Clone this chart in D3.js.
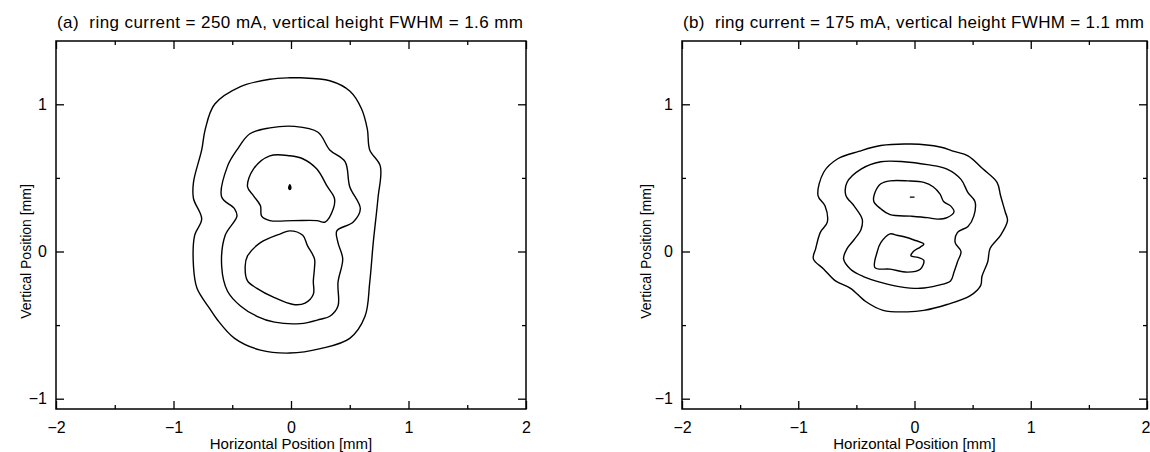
<!DOCTYPE html>
<html><head><meta charset="utf-8">
<script src="https://cdn.jsdelivr.net/npm/d3@7"></script>
<style>
body{margin:0;background:#fff}
svg{display:block}
text{font-family:"Liberation Sans",Arial,sans-serif;fill:#000}
</style>
</head><body>
<svg id="c" width="1150" height="452"></svg>
<script>
// ---- data ----
const xTickValues = [-2, -1, 0, 1, 2];
const xMinorValues = [-1.5, -0.5, 0.5, 1.5];
const yTickValues = [-1, 0, 1];
const yMinorValues = [-0.5, 0.5];
const titles = [
  "(a)  ring current = 250 mA, vertical height FWHM = 1.6 mm",
  "(b)  ring current = 175 mA, vertical height FWHM = 1.1 mm"
];
const xLabel = "Horizontal Position [mm]";
const yLabel = "Vertical Position [mm]";

// contour lines, panel (a), [x mm, y mm]
const aOuter = [[-0.01,1.18],[0.08,1.18],[0.33,1.16],[0.50,1.09],[0.60,0.97],[0.65,0.83],[0.67,0.69],[0.76,0.58],[0.74,0.36],[0.70,0.06],[0.67,-0.21],[0.63,-0.44],[0.50,-0.59],[0.25,-0.66],[-0.01,-0.69],[-0.26,-0.67],[-0.48,-0.59],[-0.63,-0.46],[-0.69,-0.39],[-0.80,-0.25],[-0.83,-0.10],[-0.82,0.11],[-0.76,0.22],[-0.83,0.36],[-0.83,0.47],[-0.76,0.69],[-0.73,0.83],[-0.65,1.00],[-0.43,1.12],[-0.18,1.17]];
const aMiddle = [[0.03,0.85],[0.23,0.81],[0.33,0.69],[0.46,0.61],[0.50,0.44],[0.59,0.29],[0.53,0.20],[0.39,0.14],[0.40,0.06],[0.44,-0.05],[0.40,-0.21],[0.40,-0.37],[0.33,-0.44],[0.25,-0.46],[0.08,-0.49],[-0.14,-0.48],[-0.29,-0.44],[-0.43,-0.37],[-0.54,-0.27],[-0.59,-0.10],[-0.56,0.11],[-0.46,0.24],[-0.48,0.29],[-0.59,0.37],[-0.54,0.58],[-0.46,0.69],[-0.35,0.80],[-0.18,0.84]];
const aInnerTop = [[-0.01,0.65],[0.10,0.63],[0.22,0.56],[0.31,0.44],[0.37,0.36],[0.36,0.29],[0.29,0.20],[0.22,0.21],[0.02,0.21],[-0.18,0.21],[-0.25,0.24],[-0.26,0.31],[-0.32,0.38],[-0.37,0.44],[-0.32,0.56],[-0.18,0.65]];
const aInnerBottom = [[-0.01,0.14],[0.10,0.11],[0.14,0.04],[0.20,-0.05],[0.20,-0.11],[0.19,-0.20],[0.19,-0.29],[0.12,-0.35],[0.02,-0.36],[-0.15,-0.31],[-0.29,-0.25],[-0.37,-0.20],[-0.39,-0.10],[-0.37,-0.03],[-0.26,0.06],[-0.09,0.12]];
const aPeak = [[-0.01,0.455],[0.0,0.43],[-0.01,0.42],[-0.02,0.43]];

// contour lines, panel (b)
const bOuter = [[-0.03,0.73],[0.22,0.71],[0.34,0.68],[0.46,0.65],[0.59,0.56],[0.71,0.47],[0.74,0.38],[0.78,0.27],[0.80,0.21],[0.74,0.11],[0.65,0.02],[0.63,-0.07],[0.58,-0.17],[0.57,-0.23],[0.48,-0.30],[0.28,-0.36],[0.08,-0.40],[-0.06,-0.41],[-0.27,-0.40],[-0.42,-0.34],[-0.55,-0.25],[-0.68,-0.20],[-0.78,-0.12],[-0.87,-0.05],[-0.85,0.02],[-0.81,0.13],[-0.75,0.20],[-0.77,0.31],[-0.83,0.38],[-0.78,0.54],[-0.66,0.63],[-0.48,0.68],[-0.29,0.72]];
const bMiddle = [[-0.09,0.61],[0.11,0.59],[0.28,0.56],[0.40,0.49],[0.46,0.40],[0.52,0.34],[0.51,0.24],[0.46,0.17],[0.37,0.13],[0.35,0.06],[0.40,0.00],[0.37,-0.07],[0.34,-0.14],[0.31,-0.20],[0.20,-0.23],[0.05,-0.25],[-0.12,-0.24],[-0.29,-0.21],[-0.44,-0.17],[-0.55,-0.12],[-0.61,-0.05],[-0.58,0.02],[-0.52,0.08],[-0.46,0.15],[-0.45,0.22],[-0.52,0.31],[-0.59,0.38],[-0.58,0.47],[-0.46,0.56],[-0.29,0.61]];
const bInnerTop = [[-0.06,0.48],[0.08,0.47],[0.16,0.44],[0.22,0.39],[0.25,0.34],[0.31,0.31],[0.34,0.27],[0.28,0.23],[0.20,0.22],[0.11,0.23],[-0.03,0.24],[-0.21,0.25],[-0.29,0.29],[-0.35,0.34],[-0.34,0.40],[-0.29,0.46],[-0.21,0.48]];
const bInnerBottom = [[-0.21,0.12],[-0.15,0.11],[-0.09,0.10],[-0.01,0.08],[0.08,0.05],[0.05,0.03],[-0.01,0.00],[-0.03,-0.03],[0.03,-0.04],[0.08,-0.06],[0.05,-0.12],[-0.06,-0.14],[-0.21,-0.12],[-0.34,-0.11],[-0.32,0.00],[-0.29,0.06]];
const bPeak = [[-0.04,0.37],[0.0,0.37]];

const panelContours = [
  [aOuter, aMiddle, aInnerTop, aInnerBottom],
  [bOuter, bMiddle, bInnerTop, bInnerBottom]
];
const panelPeaks = [aPeak, bPeak];

// ---- layout ----
const svg = d3.select("#c");
const panels = [
  {left: 56, right: 526, top: 41, bottom: 409, ylabX: 26},
  {left: 682, right: 1147, top: 41, bottom: 409, ylabX: 646}
];
const xDomain = [-2, 2];
const yDomain = [-1.07, 1.43];
const fmt = d3.format("d");

panels.forEach((p, i) => {
  const x = d3.scaleLinear().domain(xDomain).range([p.left, p.right]);
  const y = d3.scaleLinear().domain(yDomain).range([p.bottom, p.top]);
  const g = svg.append("g");

  const mk = (axisFn, scale, vals, size, labels, tr) => {
    const ax = axisFn(scale).tickValues(vals).tickSizeInner(size).tickSizeOuter(0);
    ax.tickFormat(labels ? fmt : "");
    const ga = g.append("g").attr("transform", tr).call(ax);
    ga.select(".domain").remove();
    ga.selectAll("line").attr("stroke", "#000").attr("stroke-width", 1.3);
    return ga;
  };
  const bx = mk(d3.axisBottom, x, xTickValues, -8, true, `translate(0,${p.bottom})`);
  bx.selectAll("text").attr("y", 13).attr("dy", "0.71em").style("font-size", "16px")
    .each(function(d) {
      if (x(d) > 1140) d3.select(this).attr("text-anchor", "end").attr("dx", 3);
    });
  mk(d3.axisBottom, x, xMinorValues, -4, false, `translate(0,${p.bottom})`);
  mk(d3.axisTop, x, xTickValues, -8, false, `translate(0,${p.top})`);
  mk(d3.axisTop, x, xMinorValues, -4, false, `translate(0,${p.top})`);
  const ly = mk(d3.axisLeft, y, yTickValues, -8, true, `translate(${p.left},0)`);
  ly.selectAll("text").attr("x", -9).style("font-size", "16px");
  mk(d3.axisLeft, y, yMinorValues, -4, false, `translate(${p.left},0)`);
  mk(d3.axisRight, y, yTickValues, -8, false, `translate(${p.right},0)`);
  mk(d3.axisRight, y, yMinorValues, -4, false, `translate(${p.right},0)`);
  g.selectAll(".tick text").attr("fill", "#000").style("font-family", '"Liberation Sans",Arial,sans-serif');

  // frame
  g.append("rect").attr("x", p.left).attr("y", p.top)
    .attr("width", p.right - p.left).attr("height", p.bottom - p.top)
    .attr("fill", "none").attr("stroke", "#000").attr("stroke-width", 1.5);

  // contours
  const ln = d3.line().x(d => x(d[0])).y(d => y(d[1])).curve(d3.curveCatmullRomClosed.alpha(0.5));
  g.selectAll("path.ct").data(panelContours[i]).enter().append("path")
    .attr("class", "ct").attr("d", ln)
    .attr("fill", "none").attr("stroke", "#000").attr("stroke-width", 1.4)
    .attr("stroke-linejoin", "round");
  g.append("path").attr("d", ln(panelPeaks[i]))
    .attr("fill", "#000").attr("stroke", "#000").attr("stroke-width", 1.2);

  // title
  g.append("text").attr("x", p.left + 1).attr("y", 28)
    .attr("xml:space", "preserve").style("white-space", "pre")
    .attr("textLength", p.right - p.left - 4).attr("lengthAdjust", "spacing")
    .style("font-size", "17px").text(titles[i]);
  // axis labels
  g.append("text").attr("x", x(0)).attr("y", 449).attr("text-anchor", "middle")
    .style("font-size", "15px").text(xLabel);
  g.append("text").attr("transform", `translate(${p.ylabX},${y(0)}) rotate(-90)`)
    .attr("text-anchor", "middle").attr("dy", "0.35em")
    .style("font-size", "14px").text(yLabel);
});
</script>
</body></html>
